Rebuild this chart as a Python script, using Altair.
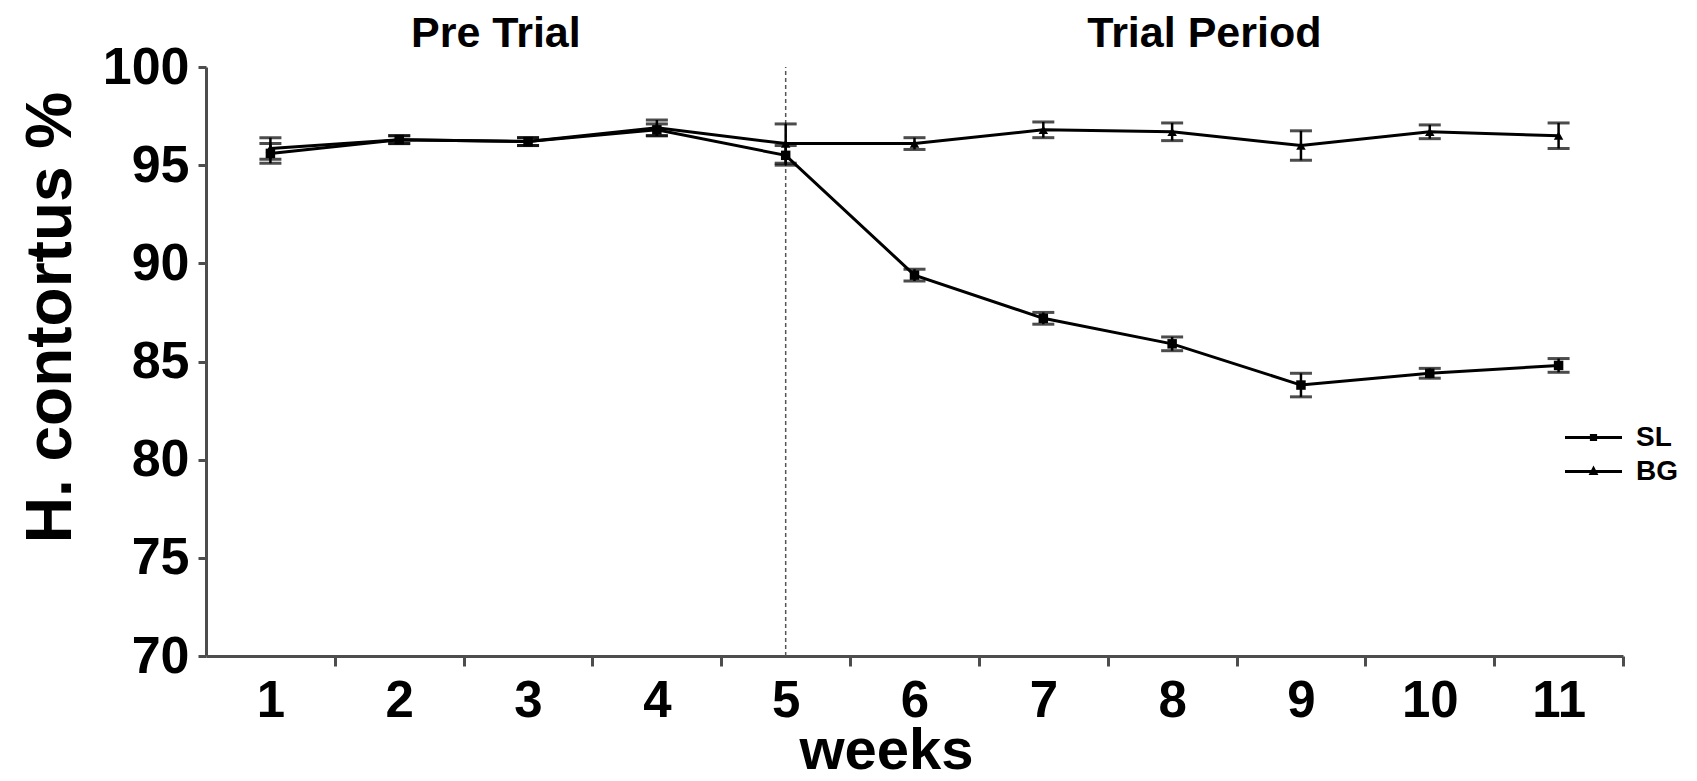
import altair as alt
import pandas as pd

# ---- data ----
weeks = [1, 2, 3, 4, 5, 6, 7, 8, 9, 10, 11]
sl_mean = [95.6, 96.3, 96.2, 96.8, 95.5, 89.4, 87.2, 85.9, 83.8, 84.4, 84.8]
sl_err = [0.5, 0.2, 0.2, 0.3, 0.5, 0.3, 0.3, 0.35, 0.6, 0.25, 0.35]
bg_mean = [95.85, 96.3, 96.2, 96.9, 96.1, 96.1, 96.8, 96.7, 96.0, 96.7, 96.5]
bg_err = [0.55, 0.2, 0.2, 0.4, 1.0, 0.3, 0.4, 0.45, 0.75, 0.35, 0.65]
series_names = ["SL", "BG"]
period_labels = ["Pre Trial", "Trial Period"]
period_start = [0.5, 5]
period_end = [5, 11.5]
trial_start_week = 5

rows = []
for name, means, errs in [("SL", sl_mean, sl_err), ("BG", bg_mean, bg_err)]:
    for w, m, e in zip(weeks, means, errs):
        rows.append({"week": w, "series": name, "value": m, "lo": m - e, "hi": m + e})
df = pd.DataFrame(rows)

periods = pd.DataFrame({
    "label": period_labels,
    "mid": [(a + b) / 2 for a, b in zip(period_start, period_end)],
    "top": [100, 100],
})
divider = pd.DataFrame({"week": [trial_start_week], "y0": [70], "y1": [100]})

W, H = 1417, 589
band = W / 11
FONT = "Liberation Sans"
Y_TITLE = "H. contortus %"

x_scale = alt.Scale(domain=[0.5, 11.5], nice=False, zero=False)
y_scale = alt.Scale(domain=[70, 100], nice=False, zero=False)

x_axis = alt.Axis(
    values=weeks, format="d", title="weeks",
    tickOffset=band / 2, labelOffset=-band / 2,
    tickSize=10, labelPadding=10, labelFontSize=51,
    titleFontSize=58, titleX=680, titleY=112, titleBaseline="alphabetic",
    titleAnchor="start", titleAlign="center",
)
y_axis = alt.Axis(
    values=[70, 75, 80, 85, 90, 95, 100], title=Y_TITLE,
    tickSize=8, labelPadding=9, labelFontSize=52,
    titleFontSize=64, titleAngle=-90, titleX=-136, titleY=250,
    titleBaseline="alphabetic", titleAlign="center",
)

base = alt.Chart(df)

lines = base.mark_line(color="black", strokeWidth=3).encode(
    x=alt.X("week:Q", scale=x_scale, axis=x_axis, title="weeks"),
    y=alt.Y("value:Q", scale=y_scale, axis=y_axis, title=Y_TITLE),
    detail="series:N",
)

errs = base.mark_errorbar(
    color="black", thickness=2.5,
    ticks={"size": 22, "thickness": 3, "color": "black"},
).encode(
    x=alt.X("week:Q", scale=x_scale, title="weeks"),
    y=alt.Y("lo:Q", scale=y_scale, title=Y_TITLE),
    y2="hi:Q",
    detail="series:N",
)

points = base.mark_point(filled=True, color="black", size=90, opacity=1).encode(
    x=alt.X("week:Q", scale=x_scale, title="weeks"),
    y=alt.Y("value:Q", scale=y_scale, title=Y_TITLE),
    shape=alt.Shape(
        "series:N",
        scale=alt.Scale(domain=series_names, range=["square", "triangle-up"]),
        legend=None,
    ),
)

# legend symbols: a short line with the series marker on it (drawn as outlines)
legend_layer = base.mark_point(
    filled=False, color="black", strokeWidth=3, size=0, opacity=0,
).encode(
    x=alt.X("week:Q", scale=x_scale, title="weeks"),
    y=alt.Y("value:Q", scale=y_scale, title=Y_TITLE),
    shape=alt.Shape(
        "series:N",
        scale=alt.Scale(
            domain=series_names,
            range=[
                "M-1.9,0H1.9M-0.14,-0.14H0.14V0.14H-0.14Z",
                "M-1.9,0H1.9M0,-0.18L0.16,0.13L-0.16,0.13Z",
            ],
        ),
        legend=alt.Legend(
            title=None, orient="none", legendX=1371, legendY=354,
            labelFont=FONT, labelFontWeight="bold", labelFontSize=28,
            labelColor="black", symbolSize=900,
            symbolStrokeColor="black", symbolStrokeWidth=3, symbolOpacity=1,
            rowPadding=3, labelOffset=26,
        ),
    ),
)

rule = alt.Chart(divider).mark_rule(
    color="#555555", strokeWidth=1.5, strokeDash=[4, 3]
).encode(
    x=alt.X("week:Q", scale=x_scale, title="weeks"),
    y=alt.Y("y0:Q", scale=y_scale, title=Y_TITLE),
    y2="y1:Q",
)

labels = alt.Chart(periods).mark_text(
    font=FONT, fontWeight="bold", fontSize=43, color="black",
    dy=-20, baseline="alphabetic", align="center",
).encode(
    x=alt.X("mid:Q", scale=x_scale, title="weeks"),
    y=alt.Y("top:Q", scale=y_scale, title=Y_TITLE),
    text="label:N",
)

chart = alt.layer(rule, lines, errs, points, legend_layer, labels).resolve_scale(
    shape="independent"
).properties(
    width=W, height=H,
    autosize=alt.AutoSizeParams(type="none"),
    padding={"left": 198, "top": 59, "right": 66, "bottom": 117},
).configure_view(stroke=None).configure_axis(
    grid=False, domainColor="#4d4d4d", domainWidth=3,
    tickColor="#4d4d4d", tickWidth=3,
    labelFont=FONT, labelFontWeight="bold", labelColor="black",
    titleFont=FONT, titleFontWeight="bold", titleColor="black",
)

chart.save("out.html", embed_options={"renderer": "svg", "actions": False})
